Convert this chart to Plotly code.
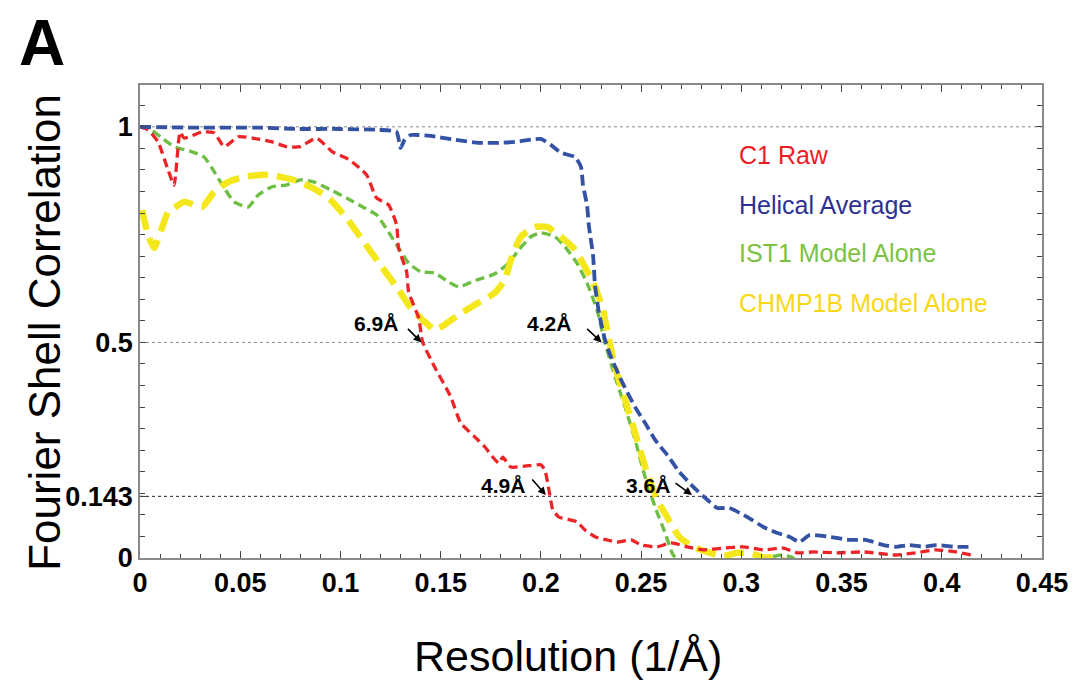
import plotly.graph_objects as go

# ---------------- data ----------------
red_x = [0.0, 0.004, 0.009, 0.014, 0.017, 0.020, 0.022, 0.031, 0.037, 0.042, 0.049, 0.056, 0.066, 0.073,
         0.080, 0.088, 0.096, 0.104, 0.113, 0.118, 0.124, 0.128, 0.129, 0.133, 0.134, 0.139, 0.141, 0.147,
         0.155, 0.160, 0.167, 0.172, 0.176, 0.179, 0.181, 0.185, 0.192, 0.200, 0.202, 0.204, 0.206, 0.209,
         0.215, 0.218, 0.222, 0.227, 0.233, 0.238, 0.245, 0.250, 0.258, 0.265, 0.273, 0.281, 0.291, 0.301,
         0.311, 0.321, 0.328, 0.336, 0.347, 0.361, 0.377, 0.387, 0.397, 0.407, 0.415]
red_y = [1.0, 0.993, 0.965, 0.900, 0.865, 0.988, 0.974, 0.988, 0.986, 0.954, 0.977, 0.974, 0.965, 0.954,
         0.954, 0.974, 0.942, 0.925, 0.889, 0.835, 0.819, 0.773, 0.719, 0.664, 0.617, 0.557, 0.501, 0.443,
         0.374, 0.313, 0.281, 0.258, 0.234, 0.220, 0.234, 0.211, 0.213, 0.216, 0.204, 0.158, 0.111, 0.095,
         0.088, 0.084, 0.065, 0.049, 0.042, 0.037, 0.042, 0.030, 0.026, 0.035, 0.026, 0.019, 0.023, 0.026,
         0.019, 0.023, 0.012, 0.014, 0.012, 0.014, 0.007, 0.012, 0.019, 0.014, 0.007]

blue_x = [0.0, 0.030, 0.060, 0.079, 0.099, 0.119, 0.128, 0.130, 0.132, 0.135, 0.145, 0.157, 0.169, 0.179,
          0.187, 0.200, 0.205, 0.210, 0.217, 0.220, 0.221, 0.223, 0.224, 0.226, 0.227, 0.229, 0.232, 0.235,
          0.240, 0.247, 0.252, 0.257, 0.263, 0.269, 0.276, 0.283, 0.288, 0.294, 0.303, 0.311, 0.318, 0.324,
          0.329, 0.334, 0.344, 0.354, 0.362, 0.371, 0.377, 0.384, 0.391, 0.397, 0.407, 0.415]
blue_y = [1.0, 0.998, 0.998, 0.995, 0.995, 0.993, 0.988, 0.951, 0.970, 0.981, 0.979, 0.970, 0.963, 0.963,
          0.965, 0.972, 0.958, 0.940, 0.930, 0.907, 0.865, 0.819, 0.768, 0.703, 0.633, 0.568, 0.506, 0.466,
          0.413, 0.350, 0.313, 0.274, 0.239, 0.200, 0.165, 0.135, 0.116, 0.116, 0.095, 0.072, 0.058, 0.049,
          0.037, 0.053, 0.049, 0.042, 0.042, 0.030, 0.026, 0.030, 0.026, 0.030, 0.026, 0.026]

green_x = [0.0, 0.004, 0.011, 0.017, 0.026, 0.032, 0.037, 0.042, 0.047, 0.054, 0.059, 0.066, 0.073, 0.080,
           0.087, 0.095, 0.103, 0.112, 0.118, 0.124, 0.129, 0.134, 0.140, 0.147, 0.154, 0.159, 0.167, 0.177,
           0.184, 0.189, 0.195, 0.200, 0.207, 0.212, 0.218, 0.223, 0.228, 0.232, 0.237, 0.242, 0.247, 0.252,
           0.257, 0.262, 0.266, 0.273, 0.288, 0.308, 0.315, 0.320, 0.325, 0.330]
green_y = [1.0, 0.998, 0.974, 0.954, 0.942, 0.930, 0.896, 0.858, 0.826, 0.814, 0.842, 0.861, 0.865, 0.877,
           0.872, 0.854, 0.835, 0.812, 0.796, 0.756, 0.719, 0.684, 0.664, 0.661, 0.640, 0.629, 0.643, 0.659,
           0.684, 0.715, 0.745, 0.754, 0.745, 0.722, 0.684, 0.638, 0.575, 0.499, 0.420, 0.350, 0.274, 0.188,
           0.118, 0.058, 0.007, -0.016, -0.028, -0.016, 0.002, 0.007, 0.002, -0.016]

yellow_x = [0.001, 0.004, 0.007, 0.011, 0.014, 0.017, 0.022, 0.031, 0.037, 0.044, 0.052, 0.062, 0.070,
            0.078, 0.087, 0.095, 0.103, 0.112, 0.121, 0.129, 0.135, 0.142, 0.147, 0.152, 0.159, 0.167,
            0.177, 0.182, 0.185, 0.190, 0.197, 0.203, 0.210, 0.217, 0.222, 0.227, 0.231, 0.234, 0.237,
            0.242, 0.247, 0.253, 0.258, 0.263, 0.269, 0.276, 0.283, 0.291, 0.298, 0.304, 0.311, 0.318, 0.323]
yellow_y = [0.807, 0.749, 0.719, 0.766, 0.803, 0.812, 0.826, 0.814, 0.849, 0.872, 0.884, 0.889, 0.884,
            0.875, 0.856, 0.831, 0.789, 0.731, 0.673, 0.622, 0.580, 0.548, 0.529, 0.541, 0.564, 0.587,
            0.615, 0.645, 0.691, 0.745, 0.768, 0.768, 0.745, 0.715, 0.675, 0.629, 0.575, 0.506, 0.443,
            0.367, 0.290, 0.197, 0.135, 0.095, 0.049, 0.026, 0.014, 0.005, 0.012, 0.012, 0.002, 0.0, -0.01]

series_names = ["C1 Raw", "Helical Average", "IST1 Model Alone", "CHMP1B Model Alone"]
legend_y = [0.935, 0.819, 0.708, 0.592]

x_ticks = [0, 0.05, 0.1, 0.15, 0.2, 0.25, 0.3, 0.35, 0.4, 0.45]
y_ticks = [0, 0.143, 0.5, 1]
y_tick_text = ["0", "0.143", "0.5", "1"]

res_labels = ["6.9Å", "4.2Å", "4.9Å", "3.6Å"]
res_label_x = [0.1176, 0.204, 0.1811, 0.2536]
res_label_y = [0.545, 0.545, 0.167, 0.167]
res_point_x = [0.1404, 0.2303, 0.2025, 0.2754]
res_point_y = [0.5, 0.5, 0.146, 0.146]

# ---------------- styling ----------------
FONT = "Liberation Sans, Arial, Helvetica, sans-serif"
line_colors = ["#ec2327", "#3452a4", "#6fbe44", "#f4e81c"]
text_colors = ["#ed1c24", "#2e3192", "#7cc242", "#f9d716"]
widths = [3.3, 3.8, 3.4, 6.5]
dashes = ["9px,5px", "11px,5px", "9px,5px", "20px,9px"]

fig = go.Figure()
data = [(red_x, red_y), (blue_x, blue_y), (green_x, green_y), (yellow_x, yellow_y)]
order = [2, 3, 0, 1]  # draw order: green, yellow, red, blue on top
for i in order:
    xs, ys = data[i]
    fig.add_trace(go.Scatter(
        x=xs, y=ys, mode="lines", name=series_names[i],
        line=dict(color=line_colors[i], width=widths[i], dash=dashes[i], shape="spline", smoothing=0.5),
        showlegend=False, hoverinfo="skip"))

# reference lines
for yv, col in [(1, "#8a8a8a"), (0.5, "#8a8a8a"), (0.143, "#222222")]:
    fig.add_shape(type="line", xref="paper", yref="y", x0=0, x1=1, y0=yv, y1=yv,
                  line=dict(color=col, width=1, dash="dot"), layer="below")

annotations = []
for name, yv, col in zip(series_names, legend_y, text_colors):
    annotations.append(dict(text=name, xref="paper", yref="y", x=0.6615, y=yv, xanchor="left",
                            yanchor="middle", showarrow=False, font=dict(family=FONT, size=25, color=col)))

for lab, lx, ly in zip(res_labels, res_label_x, res_label_y):
    annotations.append(dict(text="<b>%s</b>" % lab, x=lx, y=ly, xref="x", yref="y", showarrow=False,
                            font=dict(family=FONT, size=21, color="black")))
for px, py, ax, ay in zip(res_point_x, res_point_y, [-15, -16, -15, -18], [-15, -15, -17, -13]):
    annotations.append(dict(text="", x=px, y=py, xref="x", yref="y", showarrow=True, ax=ax, ay=ay,
                            arrowhead=2, arrowsize=1, arrowwidth=1.6, arrowcolor="black", standoff=0))

annotations.append(dict(text="Fourier Shell Correlation", xref="paper", yref="paper", x=0, y=0.476,
                        xshift=-95, textangle=-90, showarrow=False, xanchor="center", yanchor="middle",
                        font=dict(family=FONT, size=44, color="black")))
annotations.append(dict(text="Resolution (1/Å)", xref="paper", yref="paper", x=0.475, y=0,
                        yshift=-98, showarrow=False, xanchor="center", yanchor="middle",
                        font=dict(family=FONT, size=43, color="black")))
annotations.append(dict(text="<b>A</b>", xref="paper", yref="paper", x=0, y=1, xshift=-98, yshift=42,
                        showarrow=False, xanchor="center", yanchor="middle",
                        font=dict(family=FONT, size=64, color="black")))

fig.update_layout(
    width=1072, height=672,
    margin=dict(l=132, r=33, t=77, b=122),
    paper_bgcolor="white", plot_bgcolor="white",
    annotations=annotations,
    showlegend=False,
)
fig.update_xaxes(
    range=[0, 0.45], tickvals=x_ticks, ticktext=[("%g" % v) for v in x_ticks],
    ticks="inside", ticklen=7, tickwidth=1.2, tickcolor="#444",
    minor=dict(dtick=0.01, tick0=0, ticks="inside", ticklen=4, tickcolor="#444", tickwidth=1),
    showline=True, linecolor="#8a8a8a", linewidth=1.5, mirror="ticks",
    showgrid=False, zeroline=False,
    tickfont=dict(family=FONT, size=27, color="black", weight="bold"),
)
fig.update_yaxes(
    range=[0, 1.097], tickvals=y_ticks, ticktext=y_tick_text,
    ticks="inside", ticklen=6, tickwidth=1.2, tickcolor="#444",
    minor=dict(dtick=0.05, tick0=0, ticks="inside", ticklen=5, tickcolor="#444", tickwidth=1),
    showline=True, linecolor="#8a8a8a", linewidth=1.5, mirror="ticks",
    showgrid=False, zeroline=False,
    tickfont=dict(family=FONT, size=27, color="black", weight="bold"),
)

fig.write_html("out.html")
